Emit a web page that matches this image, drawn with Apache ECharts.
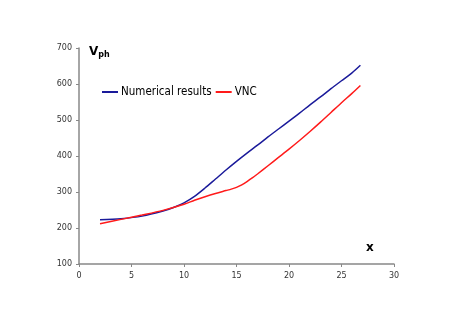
<!DOCTYPE html>
<html>
<head>
<meta charset="utf-8">
<script src="https://cdn.jsdelivr.net/npm/echarts@6/dist/echarts.min.js"></script>
<style>
  html, body { margin: 0; padding: 0; background: #fff; }
  #chart { width: 452px; height: 326px; }
</style>
</head>
<body>
<div id="chart"></div>
<script>
// values
const numX = [2, 4, 6, 8, 9, 10, 11, 12, 13, 14, 15, 16, 17, 18, 19, 20, 21, 22, 23, 24, 25, 26, 26.8];
const numY = [223, 226, 233, 247, 257, 270, 288, 311, 336, 361, 385, 408, 430, 453, 475, 497, 519, 542, 564, 587, 609, 631, 652];
const vncX = [2, 4, 6, 8, 10, 11, 12, 13, 14, 14.5, 15, 15.5, 16, 16.5, 17, 18, 19, 20, 21, 22, 23, 24, 25, 26, 26.8];
const vncY = [212, 224, 236, 249, 266, 277, 287, 296, 304, 308, 313, 320, 329, 339, 350, 373, 396, 419, 443, 468, 494, 521, 548, 574, 596];
const xTicks = [0, 30, 5];
const yTicks = [100, 700, 100];

const pairs = (xs, ys) => xs.map((x, i) => [x, ys[i]]);

let myChart = echarts.init(document.getElementById("chart"));
myChart.setOption({
  animation: false,
  textStyle: { fontFamily: "DejaVu Sans" },
  grid: { left: 79, right: 58, top: 48, bottom: 62 },
  legend: {
    data: ["Numerical results", "VNC"],
    left: 97,
    top: 81,
    itemWidth: 16,
    itemHeight: 2,
    itemGap: 4,
    icon: "rect",
    textStyle: { color: "#000", fontSize: 11.5, fontFamily: "DejaVu Sans Condensed", padding: [0, 0, 0, -2] }
  },
  graphic: [
    {
      type: "text",
      left: 89,
      top: 46,
      style: {
        text: "{v|V}{s|ph}",
        rich: {
          v: { fontSize: 12, fontWeight: "bold", fill: "#000", fontFamily: "DejaVu Sans" },
          s: { fontSize: 8, fontWeight: "bold", fill: "#000", fontFamily: "DejaVu Sans", verticalAlign: "bottom", padding: [5, 0, 0, 0] }
        }
      }
    },
    {
      type: "text",
      left: 366,
      top: 242,
      style: { text: "x", fontSize: 12, fontWeight: "bold", fill: "#000", fontFamily: "DejaVu Sans" }
    }
  ],
  xAxis: {
    type: "value",
    min: xTicks[0],
    max: xTicks[1],
    interval: xTicks[2],
    splitLine: { show: false },
    axisLine: { lineStyle: { color: "#888", width: 1.5 } },
    axisTick: { length: 3, lineStyle: { color: "#888" } },
    axisLabel: { color: "#333", fontSize: 8, margin: 8 }
  },
  yAxis: {
    type: "value",
    min: yTicks[0],
    max: yTicks[1],
    interval: yTicks[2],
    splitLine: { show: false },
    axisLine: { show: true, lineStyle: { color: "#888", width: 1.5 } },
    axisTick: { show: true, length: 3, lineStyle: { color: "#888" } },
    axisLabel: { color: "#333", fontSize: 8, margin: 7 }
  },
  series: [
    {
      name: "Numerical results",
      type: "line",
      data: pairs(numX, numY),
      smooth: 0.3,
      symbol: "none",
      lineStyle: { color: "#1a1a9a", width: 1.5 },
      itemStyle: { color: "#1a1a9a" }
    },
    {
      name: "VNC",
      type: "line",
      data: pairs(vncX, vncY),
      smooth: 0.3,
      symbol: "none",
      lineStyle: { color: "#ff1a1a", width: 1.5 },
      itemStyle: { color: "#ff1a1a" }
    }
  ]
});
</script>
</body>
</html>
